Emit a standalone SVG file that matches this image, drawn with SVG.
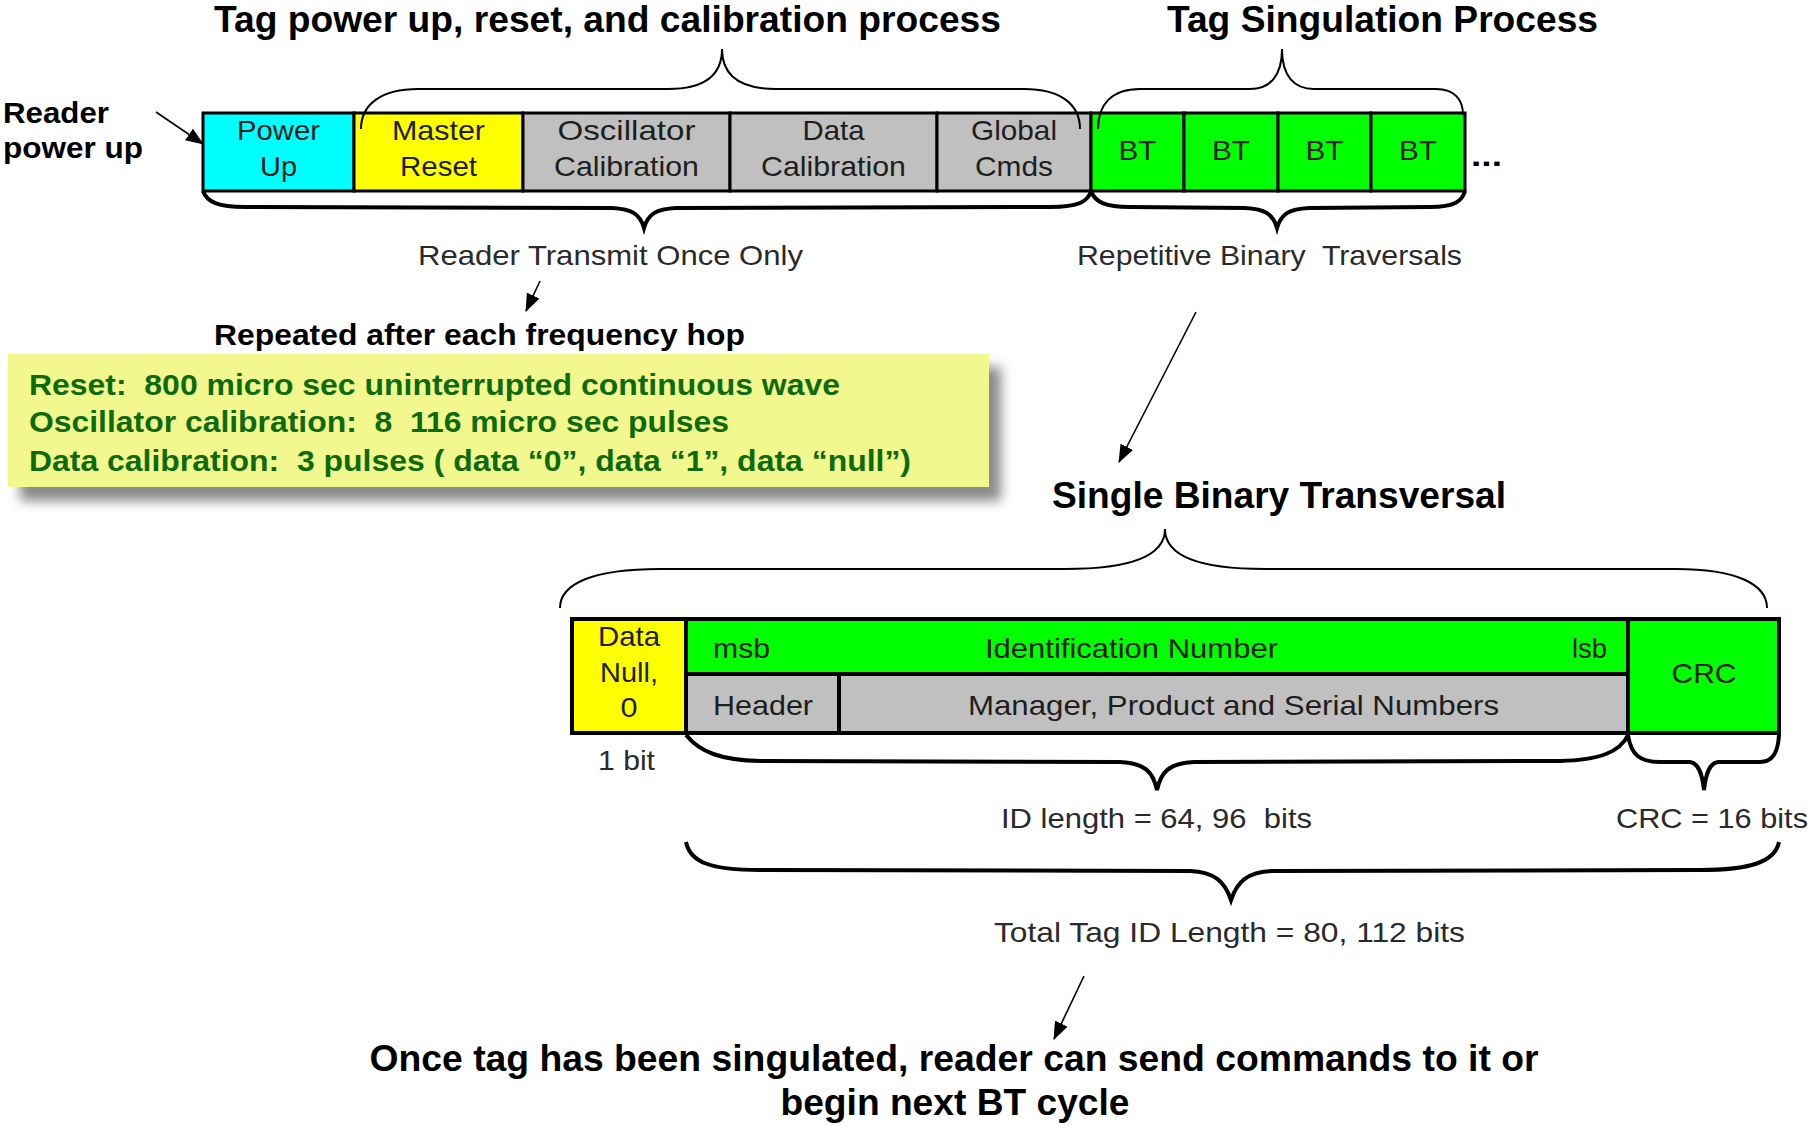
<svg xmlns="http://www.w3.org/2000/svg" width="1812" height="1126" viewBox="0 0 1812 1126">
  <style>
    .title { font-family: "Liberation Sans", Arial, sans-serif; font-weight: bold; font-size: 36px; fill: #000; }
    .bold { font-family: "Liberation Sans", Arial, sans-serif; font-weight: bold; font-size: 30px; fill: #000; }
    .note { font-family: "Liberation Sans", Arial, sans-serif; font-weight: bold; font-size: 29px; fill: #0d6b0d; white-space: pre; }
    .cell { font-family: "Liberation Sans", Arial, sans-serif; font-size: 28px; fill: #1e1e1e; }
    .cap { font-family: "Liberation Sans", Arial, sans-serif; font-size: 28px; fill: #2a2a2a; white-space: pre; }
    .mid { text-anchor: middle; }
    .box { stroke: #000; stroke-width: 3; }
    .box2 { stroke: #000; stroke-width: 4; }
    .cyan { fill: #00FFFF; }
    .yellow { fill: #FFFF00; }
    .gray { fill: #C0C0C0; }
    .green { fill: #00FF00; }
    .brace { fill: none; stroke: #000; stroke-width: 2; }
    .brace-thick { fill: none; stroke: #000; stroke-width: 4; stroke-linejoin: miter; }
    .arrow { fill: none; stroke: #000; stroke-width: 1.6; marker-end: url(#head); }
  </style>
  <defs>
    <marker id="head" markerUnits="userSpaceOnUse" markerWidth="18" markerHeight="14" viewBox="0 0 18 14" refX="17" refY="7" orient="auto">
      <path d="M0,0 L18,7 L0,14 Z" fill="#000"/>
    </marker>
    <filter id="soft" x="-10%" y="-20%" width="130%" height="150%">
      <feGaussianBlur stdDeviation="6"/>
    </filter>
  </defs>

  <rect width="1812" height="1126" fill="#fff"/>

  <!-- headings -->
  <text class="title" x="214" y="32" textLength="787" lengthAdjust="spacingAndGlyphs">Tag power up, reset, and calibration process</text>
  <text class="title" x="1167" y="32" textLength="431" lengthAdjust="spacingAndGlyphs">Tag Singulation Process</text>
  <text class="bold" x="3" y="123" textLength="106" lengthAdjust="spacingAndGlyphs">Reader</text>
  <text class="bold" x="3" y="158" textLength="140" lengthAdjust="spacingAndGlyphs">power up</text>

  <!-- reader sequence row -->
  <g id="power-up">
    <rect class="box cyan" x="203" y="113" width="151" height="78"/>
    <text class="cell mid" x="278.5" y="140" textLength="83" lengthAdjust="spacingAndGlyphs">Power</text>
    <text class="cell mid" x="278.5" y="175.5" textLength="37" lengthAdjust="spacingAndGlyphs">Up</text>
  </g>
  <g id="master-reset">
    <rect class="box yellow" x="354" y="113" width="169" height="78"/>
    <text class="cell mid" x="438.5" y="140" textLength="93" lengthAdjust="spacingAndGlyphs">Master</text>
    <text class="cell mid" x="438.5" y="175.5" textLength="77" lengthAdjust="spacingAndGlyphs">Reset</text>
  </g>
  <g id="oscillator-calibration">
    <rect class="box gray" x="523" y="113" width="207" height="78"/>
    <text class="cell mid" x="626.5" y="140" textLength="138" lengthAdjust="spacingAndGlyphs">Oscillator</text>
    <text class="cell mid" x="626.5" y="175.5" textLength="145" lengthAdjust="spacingAndGlyphs">Calibration</text>
  </g>
  <g id="data-calibration">
    <rect class="box gray" x="730" y="113" width="207" height="78"/>
    <text class="cell mid" x="833.5" y="140" textLength="62" lengthAdjust="spacingAndGlyphs">Data</text>
    <text class="cell mid" x="833.5" y="175.5" textLength="145" lengthAdjust="spacingAndGlyphs">Calibration</text>
  </g>
  <g id="global-cmds">
    <rect class="box gray" x="937" y="113" width="154" height="78"/>
    <text class="cell mid" x="1014" y="140" textLength="86" lengthAdjust="spacingAndGlyphs">Global</text>
    <text class="cell mid" x="1014" y="175.5" textLength="78" lengthAdjust="spacingAndGlyphs">Cmds</text>
  </g>
  <g id="bt-1">
    <rect class="box green" x="1091" y="113" width="93" height="78"/>
    <text class="cell mid" x="1137.5" y="160" textLength="38" lengthAdjust="spacingAndGlyphs">BT</text>
  </g>
  <g id="bt-2">
    <rect class="box green" x="1184" y="113" width="94" height="78"/>
    <text class="cell mid" x="1231" y="160" textLength="38" lengthAdjust="spacingAndGlyphs">BT</text>
  </g>
  <g id="bt-3">
    <rect class="box green" x="1278" y="113" width="93" height="78"/>
    <text class="cell mid" x="1324.5" y="160" textLength="38" lengthAdjust="spacingAndGlyphs">BT</text>
  </g>
  <g id="bt-4">
    <rect class="box green" x="1371" y="113" width="94" height="78"/>
    <text class="cell mid" x="1418" y="160" textLength="38" lengthAdjust="spacingAndGlyphs">BT</text>
  </g>
  <text class="bold" x="1471" y="166" textLength="31" lengthAdjust="spacingAndGlyphs">...</text>

  <text class="cap" x="418" y="265" textLength="385" lengthAdjust="spacingAndGlyphs">Reader Transmit Once Only</text>
  <text class="cap" x="1077" y="265" textLength="385" lengthAdjust="spacingAndGlyphs">Repetitive Binary  Traversals</text>

  <text class="bold" x="214" y="345" textLength="531" lengthAdjust="spacingAndGlyphs">Repeated after each frequency hop</text>

  <!-- timing note -->
  <g id="timing-note">
    <rect x="20" y="367" width="981" height="134" fill="#8a8a8a" filter="url(#soft)"/>
    <rect x="8" y="354" width="981" height="133" fill="#F2F88E"/>
    <text class="note" x="29" y="395" textLength="811" lengthAdjust="spacingAndGlyphs">Reset:  800 micro sec uninterrupted continuous wave</text>
    <text class="note" x="29" y="432" textLength="700" lengthAdjust="spacingAndGlyphs">Oscillator calibration:  8  116 micro sec pulses</text>
    <text class="note" x="29" y="471" textLength="882" lengthAdjust="spacingAndGlyphs">Data calibration:  3 pulses ( data “0”, data “1”, data “null”)</text>
  </g>

  <text class="title" x="1052" y="508" textLength="454" lengthAdjust="spacingAndGlyphs">Single Binary Transversal</text>

  <!-- single binary traversal frame -->
  <g id="data-null">
    <rect class="box2 yellow" x="572" y="619" width="114" height="114"/>
    <text class="cell mid" x="629" y="646" textLength="62" lengthAdjust="spacingAndGlyphs">Data</text>
    <text class="cell mid" x="629" y="682" textLength="58" lengthAdjust="spacingAndGlyphs">Null,</text>
    <text class="cell mid" x="629" y="717" textLength="17" lengthAdjust="spacingAndGlyphs">0</text>
  </g>
  <g id="identification-number">
    <rect class="box2 green" x="686" y="619" width="942" height="55"/>
    <text class="cell" x="713" y="658" textLength="57" lengthAdjust="spacingAndGlyphs">msb</text>
    <text class="cell" x="985" y="658" textLength="293" lengthAdjust="spacingAndGlyphs">Identification Number</text>
    <text class="cell" x="1572" y="658" textLength="35" lengthAdjust="spacingAndGlyphs">lsb</text>
  </g>
  <g id="header">
    <rect class="box2 gray" x="686" y="674" width="153" height="59"/>
    <text class="cell" x="713" y="715" textLength="100" lengthAdjust="spacingAndGlyphs">Header</text>
  </g>
  <g id="manager-product-serial">
    <rect class="box2 gray" x="839" y="674" width="789" height="59"/>
    <text class="cell" x="968" y="715" textLength="531" lengthAdjust="spacingAndGlyphs">Manager, Product and Serial Numbers</text>
  </g>
  <g id="crc">
    <rect class="box2 green" x="1628" y="619" width="151" height="114"/>
    <text class="cell mid" x="1704" y="683" textLength="65" lengthAdjust="spacingAndGlyphs">CRC</text>
  </g>

  <text class="cap" x="598" y="770" textLength="57" lengthAdjust="spacingAndGlyphs">1 bit</text>
  <text class="cap" x="1001" y="828" textLength="311" lengthAdjust="spacingAndGlyphs">ID length = 64, 96  bits</text>
  <text class="cap" x="1616" y="828" textLength="192" lengthAdjust="spacingAndGlyphs">CRC = 16 bits</text>
  <text class="cap" x="994" y="942" textLength="471" lengthAdjust="spacingAndGlyphs">Total Tag ID Length = 80, 112 bits</text>

  <text class="title mid" x="954" y="1071" textLength="1169" lengthAdjust="spacingAndGlyphs">Once tag has been singulated, reader can send commands to it or</text>
  <text class="title mid" x="955" y="1115" textLength="349" lengthAdjust="spacingAndGlyphs">begin next BT cycle</text>

  <!-- braces and arrows -->
  <g id="connectors">
    <path class="brace" d="M361,129 C361,104 382,89 418,89 L668,89 C704,89 722,76 722,49 C722,76 740,89 776,89 L1024,89 C1060,89 1080,104 1080,129"/>
    <path class="brace" d="M1098,129 C1098,104 1112,89 1140,89 L1250,89 C1270,89 1282,76 1282,49 C1282,76 1294,89 1314,89 L1436,89 C1455,89 1463,100 1463,115"/>
    <path class="brace" d="M560,608 C560,584 592,569 660,569 L1065,569 C1130,569 1165,556 1165,529 C1165,556 1200,569 1265,569 L1676,569 C1736,569 1767,584 1767,608"/>

    <path class="brace-thick" d="M203,191 C207,202 218,207 245,207 L612,208 C632,209 640,214 644,228 C648,214 656,209 676,208 L1050,207 C1080,207 1088,201 1091,191"/>
    <path class="brace-thick" d="M1091,191 C1095,202 1105,207 1130,207 L1245,208 C1265,209 1273,214 1277,228 C1281,214 1289,209 1309,208 L1430,207 C1455,207 1462,201 1465,191"/>
    <path class="brace-thick" d="M686,735 C700,752 720,760 760,761 L1120,762 C1145,763 1153,772 1157,790 C1161,772 1169,763 1194,762 L1560,761 C1600,760 1620,752 1628,735"/>
    <path class="brace-thick" d="M1628,735 C1631,755 1640,762 1660,762 L1690,762 C1698,763 1702,772 1704,790 C1706,772 1710,763 1718,762 L1760,762 C1773,762 1778,752 1779,735"/>
    <path class="brace-thick" d="M686,842 C690,862 710,870 760,870 L1190,871 C1215,872 1225,882 1231,900 C1237,882 1247,872 1272,871 L1700,870 C1750,870 1775,862 1779,842"/>

    <path class="arrow" d="M156,112 L203,144"/>
    <path class="arrow" d="M540,281 L526,311"/>
    <path class="arrow" d="M1196,312 L1119,462"/>
    <path class="arrow" d="M1084,976 L1054,1039"/>
  </g>
</svg>
